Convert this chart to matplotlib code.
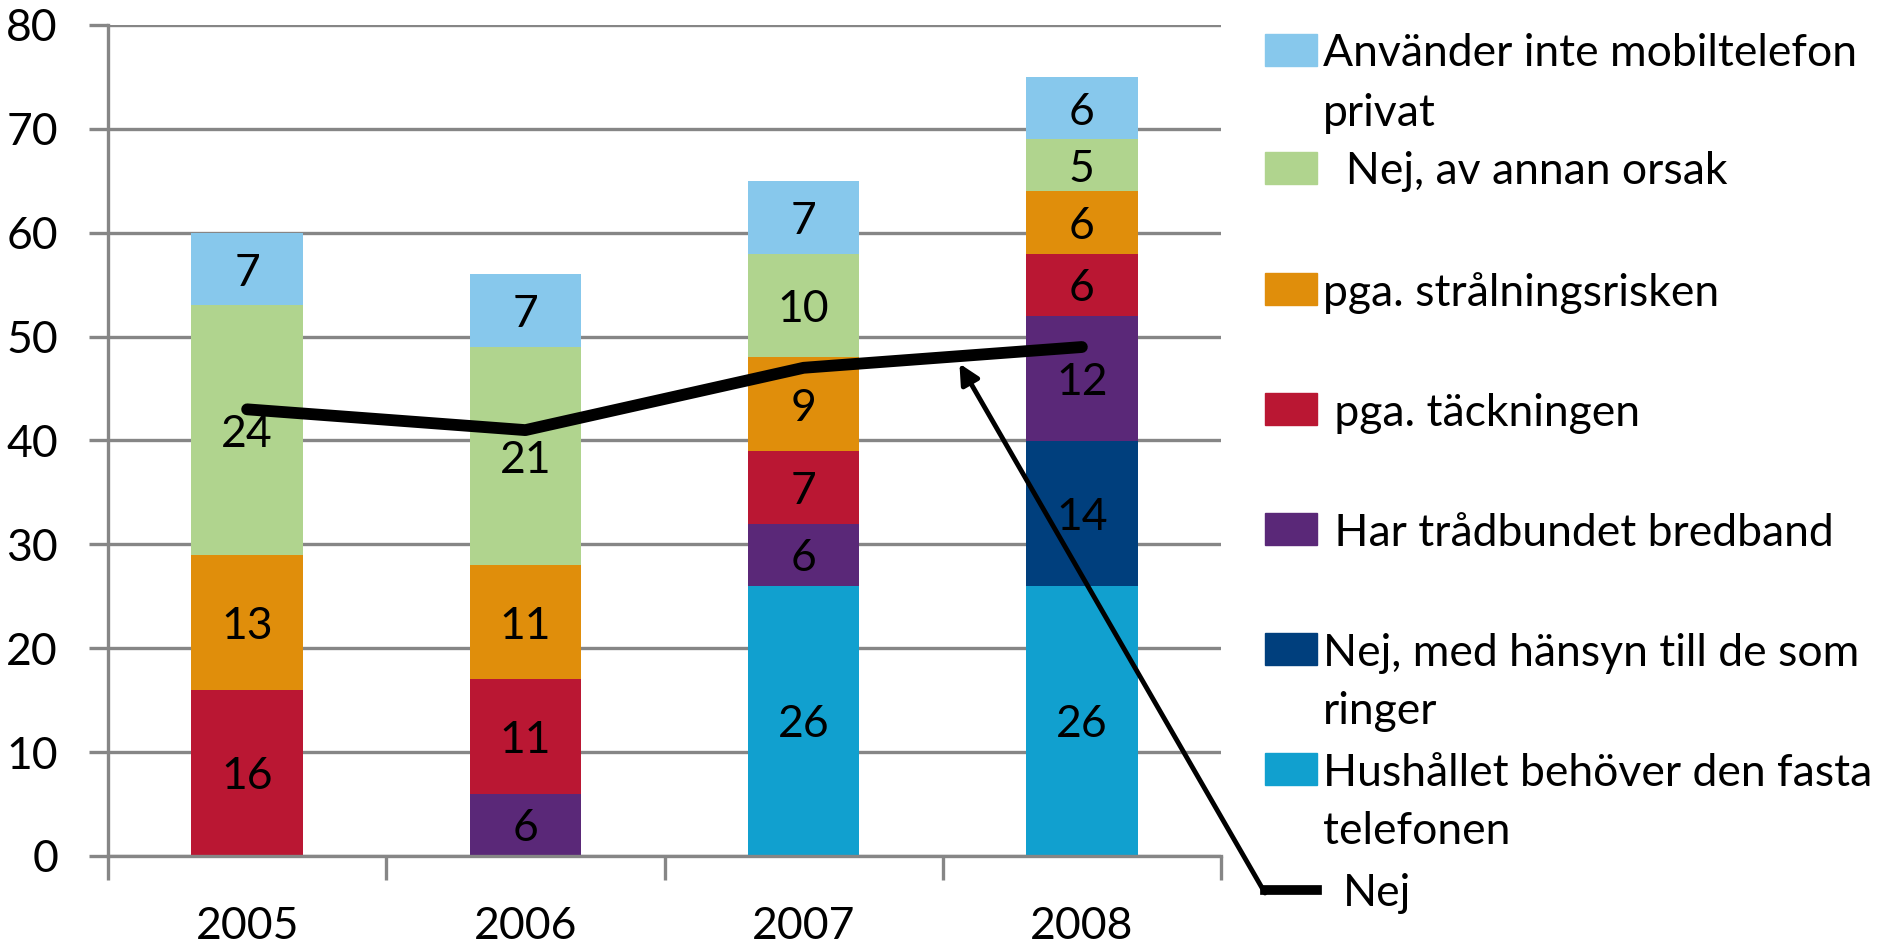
import matplotlib
matplotlib.use("Agg")
import matplotlib.pyplot as plt
import numpy as np
from matplotlib.patches import Rectangle
from matplotlib.lines import Line2D

plt.rcParams['font.family'] = ['Lato', 'DejaVu Sans']

years = ["2005", "2006", "2007", "2008"]
series_names = [
    "Hushållet behöver den fasta\ntelefonen",
    "Nej, med hänsyn till de som\nringer",
    " Har trådbundet bredband",
    " pga. täckningen",
    "pga. strålningsrisken",
    "  Nej, av annan orsak",
    "Använder inte mobiltelefon\nprivat",
]
hushallet = [0, 0, 26, 26]
hansyn = [0, 0, 0, 14]
bredband = [0, 6, 6, 12]
tackning = [16, 11, 7, 6]
stralning = [13, 11, 9, 6]
annan = [24, 21, 10, 5]
anvander = [7, 7, 7, 6]
nej = [43, 41, 47, 49]
series_values = [hushallet, hansyn, bredband, tackning, stralning, annan, anvander]
colors = ["#11A0CF", "#003F7D", "#5A2878", "#BA1733", "#E08E0B", "#B0D48E", "#87C8EC"]

W, H = 1880, 952
fig = plt.figure(figsize=(W / 100, H / 100), dpi=100)
ax = fig.add_axes([108 / W, 1 - 856 / H, (1221 - 108) / W, (856 - 25) / H])

x = np.arange(len(years))
bottom = np.zeros(len(years))
fs = 32
for name, vals, c in zip(series_names, series_values, colors):
    vals = np.array(vals, dtype=float)
    ax.bar(x, vals, 0.4, bottom=bottom, color=c, zorder=2)
    for xi, v, b in zip(x, vals, bottom):
        if v > 0:
            ax.text(xi, b + v / 2, f"{int(v)}", ha='center', va='center_baseline',
                    fontsize=fs, color='black', zorder=4)
    bottom += vals

ax.plot(x, nej, color='black', lw=8.5, zorder=5, solid_capstyle='round')

ax.set_xlim(-0.5, 3.5)
ax.set_ylim(0, 80)
ax.set_yticks(np.arange(0, 81, 10))
ax.yaxis.grid(True, color='#868686', lw=2.4, zorder=0)
ax.set_axisbelow(True)
ax.set_xticks(x)
ax.set_xticklabels(years)
ax.set_xticks(np.arange(-0.5, 4, 1), minor=True)
ax.tick_params(axis='x', which='major', length=0, pad=36, labelsize=fs)
ax.tick_params(axis='x', which='minor', length=17, width=2.4, color='#868686')
ax.tick_params(axis='y', length=14, width=2.4, color='#868686', pad=22, labelsize=fs)
for s in ['top', 'right']:
    ax.spines[s].set_visible(False)
for s in ['left', 'bottom']:
    ax.spines[s].set_color('#868686')
    ax.spines[s].set_linewidth(2.4)

# legend (manual layout)
leg_entries = [(6, 50), (5, 168), (4, 289), (3, 409), (2, 529), (1, 649), (0, 769)]
px_l, px_r = 1265, 1317
for idx, ycen in leg_entries:
    fy = 1 - ycen / H
    fig.patches.append(Rectangle((px_l / W, fy - 16 / H), (px_r - px_l) / W, 32 / H,
                                 transform=fig.transFigure, color=colors[idx]))
    for k, ln in enumerate(series_names[idx].split('\n')):
        fig.text(1323 / W, 1 - (ycen + k * 59) / H, ln, fontsize=fs, va='center_baseline',
                 ha='left', transform=fig.transFigure)

nej_y = 1 - 890 / H
fig.lines.append(Line2D([1265 / W, 1317 / W], [nej_y, nej_y], color='black', lw=7,
                        transform=fig.transFigure))
fig.text(1343 / W, 1 - 890 / H, "Nej", fontsize=fs, va='center_baseline', ha='left',
         transform=fig.transFigure)

ax.annotate("", xy=(2.56, 47.4), xycoords='data',
            xytext=(1265 / W, 1 - 893 / H), textcoords='figure fraction',
            arrowprops=dict(arrowstyle='-|>', color='black', lw=3.5,
                            mutation_scale=30, shrinkA=0, shrinkB=0),
            zorder=6, annotation_clip=False)

fig.savefig("out.png", dpi=100)
